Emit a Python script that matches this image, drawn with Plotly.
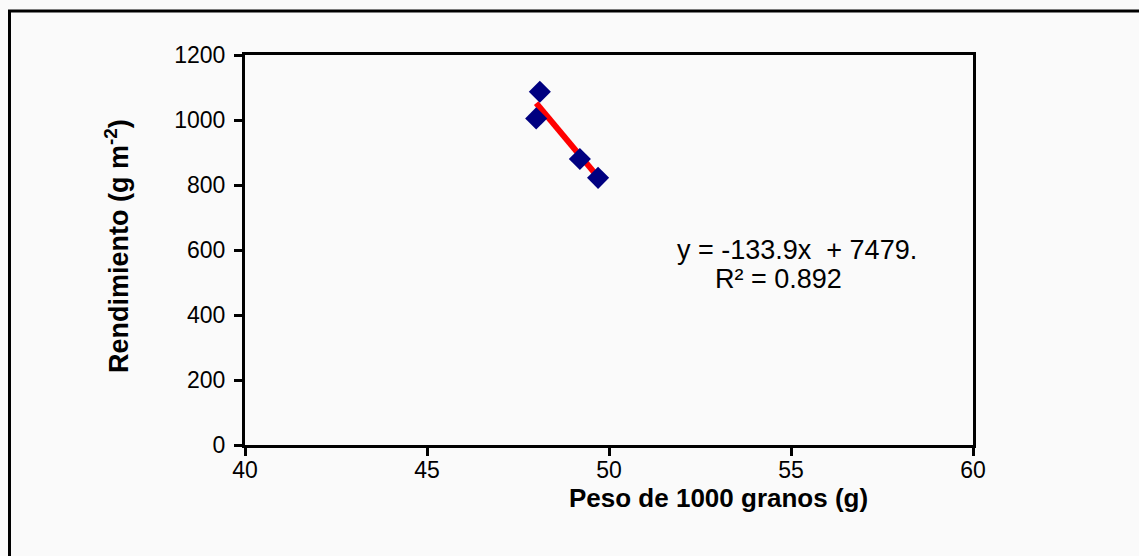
import plotly.graph_objects as go

# Thousand-grain weight (g) vs. grain yield (g m-2)
peso_1000 = [48.0, 48.1, 49.2, 49.7]
rendimiento = [1005, 1087, 880, 822]

# Linear trend fitted to the four plots
pendiente = -133.9
intercepto = 7479.0
r2 = 0.892

x_ticks = [40, 45, 50, 55, 60]
y_ticks = [0, 200, 400, 600, 800, 1000, 1200]

W, H = 1139, 556
ML, MR, MT, MB = 245, 166, 55, 111
PW, PH = W - ML - MR, H - MT - MB


def px_x(px):
    return (px - ML) / PW


def px_y(py):
    return (H - MB - py) / PH


FONT = "Liberation Sans, Arial, sans-serif"

x_fit = [min(peso_1000), max(peso_1000)]
y_fit = [pendiente * v + intercepto for v in x_fit]

fig = go.Figure()
fig.add_trace(go.Scatter(
    x=x_fit, y=y_fit, mode="lines",
    line=dict(color="#ff0000", width=6),
    showlegend=False, hoverinfo="skip",
))
fig.add_trace(go.Scatter(
    x=peso_1000, y=rendimiento, mode="markers",
    marker=dict(symbol="diamond", size=17, color="#000080",
                line=dict(width=0)),
    showlegend=False,
))

axis_common = dict(
    showline=True, linewidth=3, linecolor="black", mirror=True,
    ticks="outside", ticklen=8, tickwidth=3, tickcolor="black",
    showgrid=False, zeroline=False,
    tickfont=dict(family=FONT, size=23, color="black"),
)

fig.update_xaxes(range=[40, 60], tickvals=x_ticks, ticklabelstandoff=-6,
                 **axis_common)
fig.update_yaxes(range=[0, 1200], tickvals=y_ticks, ticklabelstandoff=4,
                 **axis_common)

fig.add_annotation(
    xref="paper", yref="paper", x=px_x(718), y=px_y(498),
    text="<b>Peso de 1000 granos (g)</b>", showarrow=False,
    font=dict(family=FONT, size=26, color="black"),
    xanchor="center", yanchor="middle",
)
fig.add_annotation(
    xref="paper", yref="paper", x=px_x(117), y=px_y(246),
    text="<b>Rendimiento (g m<sup>-2</sup>)</b>", showarrow=False,
    textangle=-90,
    font=dict(family=FONT, size=27, color="black"),
    xanchor="center", yanchor="middle",
)

# Trendline equation and coefficient of determination
eq_lines = [
    (f"y = {pendiente}x  + {intercepto:.0f}.", 797, 250),
    (f"R² = {r2}", 778, 279),
]
for txt, cx, cy in eq_lines:
    fig.add_annotation(
        xref="paper", yref="paper", x=px_x(cx), y=px_y(cy),
        text=txt, showarrow=False,
        font=dict(family=FONT, size=27, color="black"),
        xanchor="center", yanchor="middle",
    )

# Outer chart frame
fig.add_shape(
    type="rect", xref="paper", yref="paper",
    x0=px_x(9.5), x1=px_x(W + 20), y0=px_y(11), y1=px_y(H + 20),
    line=dict(color="black", width=3), fillcolor="rgba(0,0,0,0)",
    layer="below",
)

fig.update_layout(
    width=W, height=H, autosize=False,
    margin=dict(l=ML, r=MR, t=MT, b=MB),
    paper_bgcolor="#fafafa", plot_bgcolor="#fafafa",
    font=dict(family=FONT, color="black"),
)

fig.write_html("out.html")
